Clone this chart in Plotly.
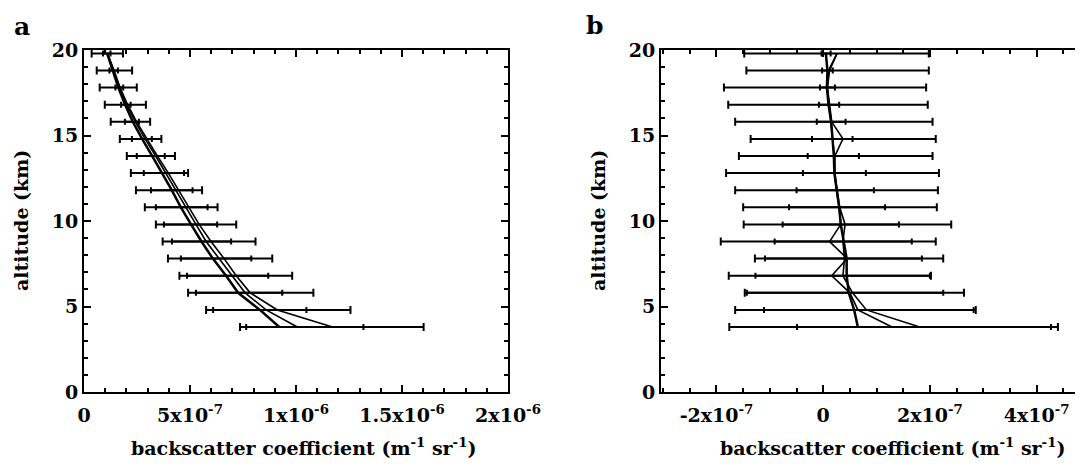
import plotly.graph_objects as go

SCALE = 1e-7  # all backscatter values below are in units of 1e-7 m^-1 sr^-1

altitude = [3.8, 4.8, 5.8, 6.8, 7.8, 8.8, 9.8, 10.8, 11.8, 12.8, 13.8, 14.8, 15.8, 16.8, 17.8, 18.8, 19.8]

# ---- panel a ----
a_curve1 = [9.21, 8.30, 7.27, 6.70, 6.08, 5.54, 5.05, 4.57, 4.14, 3.70, 3.22, 2.74, 2.30, 1.94, 1.62, 1.36, 1.09]
a_curve2 = [10.06, 8.59, 7.60, 6.99, 6.37, 5.76, 5.28, 4.81, 4.36, 3.88, 3.38, 2.88, 2.42, 2.02, 1.68, 1.40, 1.10]
a_curve3 = [11.72, 9.12, 7.84, 7.18, 6.61, 5.99, 5.43, 4.95, 4.48, 3.98, 3.46, 2.96, 2.48, 2.06, 1.70, 1.42, 1.11]
a_outer_lo = [7.36, 5.76, 4.91, 4.50, 3.96, 3.71, 3.39, 2.87, 2.45, 2.21, 2.02, 1.69, 1.26, 0.98, 0.74, 0.60, 0.36]
a_outer_hi = [16.02, 12.57, 10.82, 9.82, 8.88, 8.09, 7.18, 6.30, 5.57, 4.91, 4.29, 3.65, 3.12, 2.92, 2.49, 2.27, 1.84]
a_inner_lo = [7.65, 6.09, 5.28, 4.86, 4.57, 4.15, 3.77, 3.39, 3.16, 2.82, 2.49, 2.26, 1.93, 1.75, 1.48, 1.20, 0.90]
a_inner_hi = [13.18, 10.49, 9.35, 8.69, 7.89, 6.94, 6.28, 5.83, 5.12, 4.72, 3.81, 3.20, 2.59, 2.20, 1.85, 1.60, 1.25]
a_tickvals = [0, 5, 10, 15, 20]
a_ticktext = ["0", "5x10<sup>-7</sup>", "1x10<sup>-6</sup>", "1.5x10<sup>-6</sup>", "2x10<sup>-6</sup>"]

# ---- panel b ----
b_curve1 = [0.65, 0.58, 0.48, 0.44, 0.44, 0.39, 0.33, 0.30, 0.25, 0.21, 0.20, 0.18, 0.15, 0.10, 0.07, 0.08, 0.05]
b_curve2 = [1.29, 0.65, 0.50, 0.16, 0.45, 0.12, 0.33, 0.30, 0.25, 0.21, 0.21, 0.18, 0.15, 0.11, 0.07, 0.10, 0.26]
b_curve3 = [1.81, 0.81, 0.55, 0.37, 0.40, 0.37, 0.41, 0.31, 0.26, 0.22, 0.22, 0.37, 0.16, 0.12, 0.08, 0.12, 0.26]
b_outer_lo = [-1.76, -1.65, -1.47, -1.77, -1.28, -1.92, -1.49, -1.50, -1.65, -1.82, -1.58, -1.36, -1.65, -1.78, -1.86, -1.44, -1.48]
b_outer_hi = [4.40, 2.86, 2.64, 2.02, 2.25, 2.11, 2.40, 2.13, 2.15, 2.17, 2.05, 2.11, 2.05, 1.96, 1.93, 1.98, 1.98]
b_inner_lo = [-0.49, -1.11, -1.43, -1.27, -1.09, -0.91, -0.76, -0.64, -0.50, -0.38, -0.29, -0.21, -0.12, -0.08, -0.06, -0.02, -0.03]
b_inner_hi = [4.27, 2.82, 2.25, 2.00, 1.85, 1.66, 1.42, 1.16, 0.95, 0.80, 0.67, 0.55, 0.42, 0.30, 0.22, 0.18, 0.14]
b_tickvals = [-2, 0, 2, 4]
b_ticktext = ["-2x10<sup>-7</sup>", "0", "2x10<sup>-7</sup>", "4x10<sup>-7</sup>"]

alt_tickvals = [0, 5, 10, 15, 20]

# the page body adds an 8px offset, so the figure is 8px smaller than the window
OFF = 8
W, H = 1083 - OFF, 470 - OFF
FONT = "DejaVu Serif"


def px(x):
    return (x - OFF) / W


def py(y):
    return 1 - (y - OFF) / H


def sc(vals):
    return [v * SCALE for v in vals]


def errbars(lo, hi, xa, ya, cap):
    mid = [(l + h) / 2 * SCALE for l, h in zip(lo, hi)]
    half = [(h - l) / 2 * SCALE for l, h in zip(lo, hi)]
    return go.Scatter(x=mid, y=altitude, mode="markers", xaxis=xa, yaxis=ya,
                      marker=dict(size=2, color="rgba(0,0,0,0)"),
                      error_x=dict(type="data", array=half, symmetric=True,
                                   color="black", thickness=2, width=cap),
                      showlegend=False, hoverinfo="skip")


def curve(vals, xa, ya, w):
    return go.Scatter(x=sc(vals), y=altitude, mode="lines", xaxis=xa, yaxis=ya,
                      line=dict(color="black", width=w), showlegend=False)


fig = go.Figure()
fig.add_trace(errbars(a_outer_lo, a_outer_hi, "x", "y", 4))
fig.add_trace(errbars(a_inner_lo, a_inner_hi, "x", "y", 3))
fig.add_trace(curve(a_curve1, "x", "y", 2.5))
fig.add_trace(curve(a_curve2, "x", "y", 1.6))
fig.add_trace(curve(a_curve3, "x", "y", 1.6))

fig.add_trace(errbars(b_outer_lo, b_outer_hi, "x2", "y2", 4))
fig.add_trace(errbars(b_inner_lo, b_inner_hi, "x2", "y2", 3))
fig.add_trace(curve(b_curve1, "x2", "y2", 2.5))
fig.add_trace(curve(b_curve2, "x2", "y2", 1.6))
fig.add_trace(curve(b_curve3, "x2", "y2", 1.6))

tickfont = dict(family=FONT, size=19, color="black", weight="bold")
ydom = [py(392), py(50)]

common_x = dict(showgrid=False, zeroline=False, showline=True, linewidth=2, linecolor="black",
                ticks="inside", ticklen=7, tickwidth=1.5, tickcolor="black",
                tickfont=tickfont, tickmode="array", automargin=False, ticklabelstandoff=5)
common_y = dict(showgrid=False, zeroline=False, showline=True, linewidth=2, linecolor="black",
                ticks="inside", ticklen=7, tickwidth=1.5, tickcolor="black",
                tickfont=tickfont, tickmode="array", tickvals=alt_tickvals,
                ticktext=[str(v) for v in alt_tickvals], range=[0, 20], automargin=False,
                minor=dict(ticks="inside", tickmode="linear", tick0=0, dtick=1, ticklen=4,
                           tickwidth=1.5, tickcolor="black"))

fig.update_layout(
    width=W, height=H, margin=dict(l=0, r=0, t=0, b=0, autoexpand=False),
    paper_bgcolor="white", plot_bgcolor="white",
    xaxis=dict(common_x, domain=[px(84), px(508)], range=[0, 20 * SCALE], anchor="y",
               tickvals=sc(a_tickvals), ticktext=a_ticktext, mirror="ticks",
               minor=dict(ticks="inside", tickmode="linear", tick0=0, dtick=SCALE, ticklen=4,
                          tickwidth=1.5, tickcolor="black")),
    yaxis=dict(common_y, domain=ydom, anchor="x", mirror="ticks"),
    xaxis2=dict(common_x, domain=[px(661), 1.0], range=[-3.04 * SCALE, 4.87 * SCALE], anchor="y2",
                tickvals=sc(b_tickvals), ticktext=b_ticktext, mirror="ticks",
                minor=dict(ticks="inside", tickmode="linear", tick0=0, dtick=0.5 * SCALE, ticklen=4,
                           tickwidth=1.5, tickcolor="black")),
    yaxis2=dict(common_y, domain=ydom, anchor="x2", mirror=False),
)

titlefont = dict(family=FONT, size=19, color="black", weight="bold")
xtitle = "backscatter coefficient (m<sup>-1</sup> sr<sup>-1</sup>)"
panelfont = dict(family=FONT, size=25, color="black", weight="bold")
ann = [
    dict(text="a", x=px(22), y=py(26), font=panelfont),
    dict(text="b", x=px(594), y=py(25), font=panelfont),
    dict(text=xtitle, x=px(303), y=py(447), font=titlefont),
    dict(text=xtitle, x=px(892), y=py(447), font=titlefont),
    dict(text="altitude (km)", x=px(21), y=py(221), textangle=-90, font=titlefont),
    dict(text="altitude (km)", x=px(598), y=py(221), textangle=-90, font=titlefont),
]
for a in ann:
    a.update(xref="paper", yref="paper", showarrow=False, xanchor="center", yanchor="middle")
fig.update_layout(annotations=ann)

fig.write_html("out.html")
